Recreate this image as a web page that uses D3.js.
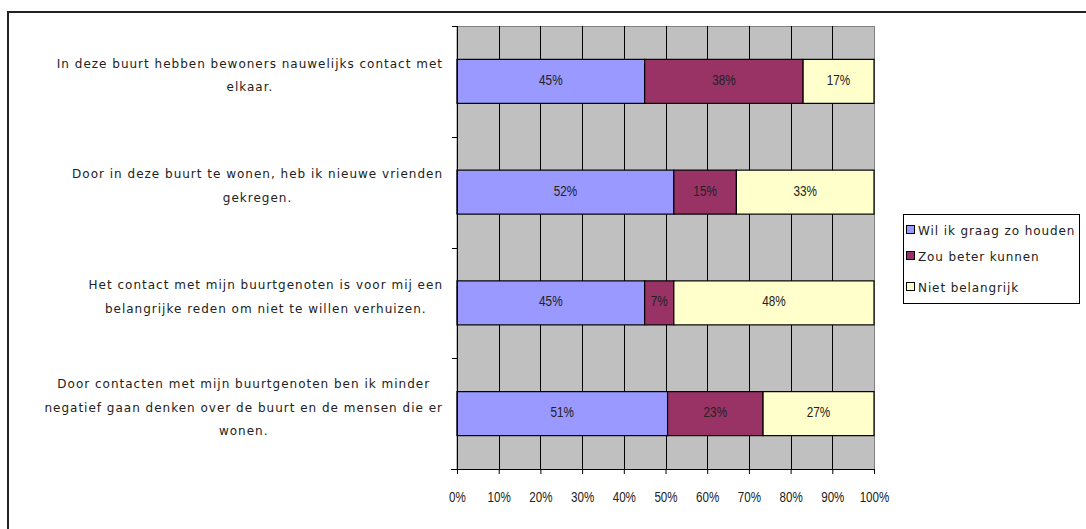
<!DOCTYPE html>
<html><head><meta charset="utf-8">
<script src="https://cdn.jsdelivr.net/npm/d3@7"></script>
<style>body{margin:0;background:#fff}svg{display:block}</style>
</head><body>
<svg id="c" width="1086" height="529"></svg>
<script>
const categories = [
  ["In deze buurt hebben bewoners nauwelijks contact met","elkaar."],
  ["Door in deze buurt te wonen, heb ik nieuwe vrienden","gekregen."],
  ["Het contact met mijn buurtgenoten is voor mij een","belangrijke reden om niet te willen verhuizen."],
  ["Door contacten met mijn buurtgenoten ben ik minder","negatief gaan denken over de buurt en de mensen die er","wonen."]
];
const seriesNames = ["Wil ik graag zo houden","Zou beter kunnen","Niet belangrijk"];
const wilHouden = [45, 52, 45, 50.5];
const zouBeter = [38, 15, 7, 22.9];
const nietBelangrijk = [17, 33, 48, 26.6];
const xTicks = [0,10,20,30,40,50,60,70,80,90,100];
const colors = ["#9999FF","#993366","#FFFFCC"];

const svg = d3.select("#c");
const L=457, R=874, T=26, B=469;
const x = d3.scaleLinear().domain([0,100]).range([L,R]);
const y = d3.scaleBand().domain(d3.range(categories.length)).range([T,B]).paddingInner(0).paddingOuter(0);
const barH = 44;
const numFont = "Liberation Sans, Arial";
const txtFont = "DejaVu Sans, Verdana";

// outer border
svg.append("rect").attr("x",8).attr("y",12).attr("width",1200).attr("height",600)
  .attr("fill","none").attr("stroke","#222").attr("stroke-width",2);

// plot area
svg.append("rect").attr("x",L).attr("y",T+0.5).attr("width",R-L+0.5).attr("height",B-T)
  .attr("fill","#C0C0C0").attr("stroke","#808080").attr("stroke-width",1);

// gridlines
svg.append("g").selectAll("line").data(xTicks.slice(1,-1)).join("line")
  .attr("x1",d=>Math.round(x(d))+0.5).attr("x2",d=>Math.round(x(d))+0.5)
  .attr("y1",T).attr("y2",B).attr("stroke","#000").attr("stroke-width",1);

// bars
const rows = categories.map((c,i)=>[wilHouden[i],zouBeter[i],nietBelangrijk[i]]);
const g = svg.append("g");
rows.forEach((vals,i)=>{
  let acc=0;
  const yc = y(i)+y.bandwidth()/2;
  vals.forEach((v,k)=>{
    const x0=x(acc), x1=x(acc+v);
    g.append("rect").attr("x",x0).attr("y",yc-barH/2).attr("width",x1-x0).attr("height",barH)
      .attr("fill",colors[k]).attr("stroke","#000").attr("stroke-width",1.2);
    const cx=(x0+x1)/2;
    g.append("text").attr("x",0).attr("y",yc+3.5).attr("text-anchor","middle")
      .attr("font-family",numFont).attr("font-size",14.5).attr("fill","#222")
      .attr("transform",`translate(${cx},0) scale(0.81,1)`)
      .text(Math.round(v)+"%");
    acc+=v;
  });
});

// axes
const xAxis = d3.axisBottom(x).tickValues(xTicks).tickSize(5).tickFormat(d=>d+"%");
const xa = svg.append("g").attr("transform",`translate(0,${B})`).call(xAxis);
xa.selectAll("line").attr("stroke","#000");
xa.selectAll("text").attr("font-family",numFont).attr("font-size",14.5).attr("fill","#222")
  .attr("dy",0).attr("y",33).attr("transform","scale(0.8,1)");
xa.select(".domain").attr("stroke","#000").attr("d",`M${L-6},0.5H${R}`);

const yTickVals = d3.range(categories.length+1).map(i=>T+i*y.bandwidth());
svg.append("g").selectAll("line").data(yTickVals).join("line")
  .attr("x1",L-5).attr("x2",L).attr("y1",d=>Math.round(d)+0.5).attr("y2",d=>Math.round(d)+0.5)
  .attr("stroke","#000");
svg.append("line").attr("x1",L+0.5).attr("x2",L+0.5).attr("y1",T).attr("y2",B).attr("stroke","#000");

// category labels
const lab = svg.append("g");
categories.forEach((lines,i)=>{
  const yc = y(i)+y.bandwidth()/2 - 6.5;
  const lh = 23.3;
  const grp = lab.append("g");
  const ts = lines.map((s,j)=>grp.append("text").attr("y",yc+(j-(lines.length-1)/2)*lh+4.5)
     .attr("font-family",txtFont).attr("font-size",12).attr("letter-spacing",1)
     .attr("fill","#222").attr("text-anchor","middle").text(s));
  const w = d3.max(ts,t=>t.node().getComputedTextLength());
  ts.forEach(t=>t.attr("x",443-w/2));
});

// legend
const lg = svg.append("g");
lg.append("rect").attr("x",903.5).attr("y",214.5).attr("width",176).attr("height",89)
  .attr("fill","#fff").attr("stroke","#000");
seriesNames.forEach((n,k)=>{
  const yy=[230,256,287][k];
  lg.append("rect").attr("x",906.5).attr("y",yy-4.5).attr("width",8).attr("height",8)
    .attr("fill",colors[k]).attr("stroke","#000");
  lg.append("text").attr("x",918).attr("y",yy+4.5).attr("font-family",txtFont)
    .attr("font-size",12).attr("letter-spacing",0.9).attr("fill","#222").text(n);
});
</script>
</body></html>
